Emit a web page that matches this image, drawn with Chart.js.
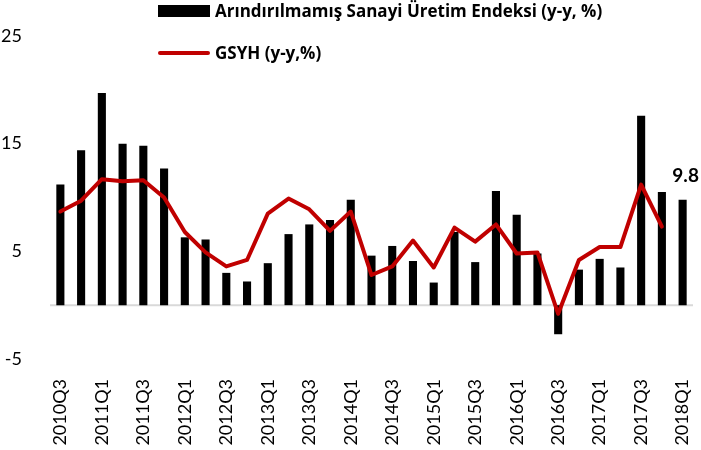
<!DOCTYPE html>
<html>
<head>
<meta charset="utf-8">
<script src="https://cdn.jsdelivr.net/npm/chart.js@4/dist/chart.umd.min.js"></script>
<style>
  body { margin: 0; background: #fff; }
  #wrap { width: 701px; height: 450px; }
</style>
</head>
<body>
<div id="wrap"><canvas id="chart" width="701" height="450"></canvas></div>
<script>
// Quarterly data, 2010Q3 - 2018Q1
const quarters = [
  "2010Q3", "2010Q4", "2011Q1", "2011Q2", "2011Q3", "2011Q4",
  "2012Q1", "2012Q2", "2012Q3", "2012Q4", "2013Q1", "2013Q2",
  "2013Q3", "2013Q4", "2014Q1", "2014Q2", "2014Q3", "2014Q4",
  "2015Q1", "2015Q2", "2015Q3", "2015Q4", "2016Q1", "2016Q2",
  "2016Q3", "2016Q4", "2017Q1", "2017Q2", "2017Q3", "2017Q4",
  "2018Q1"
];

// Arındırılmamış Sanayi Üretim Endeksi (y-y, %)
const sanayi = [
  11.2, 14.4, 19.7, 15.0, 14.8, 12.7,
  6.3, 6.1, 3.0, 2.2, 3.9, 6.6,
  7.5, 7.9, 9.8, 4.6, 5.5, 4.1,
  2.1, 6.8, 4.0, 10.6, 8.4, 4.8,
  -2.7, 3.3, 4.3, 3.5, 17.6, 10.5,
  9.8
];

// GSYH (y-y,%)
const gsyh = [
  8.7, 9.7, 11.7, 11.5, 11.6, 10.0,
  6.8, 4.9, 3.6, 4.2, 8.5, 9.9,
  8.9, 6.9, 8.7, 2.8, 3.6, 6.0,
  3.5, 7.2, 5.9, 7.5, 4.8, 4.9,
  -0.8, 4.2, 5.4, 5.4, 11.2, 7.3,
  null
];

const yTicks = [-5, 5, 15, 25];

const barLabel = "Arındırılmamış Sanayi Üretim Endeksi (y-y, %)";
const lineLabel = "GSYH (y-y,%)";
const RED = "#C00000";
const FONT = "Lato";
const LEGEND_FONT = "'Open Sans'";

// zero line across the plot
const zeroLine = {
  id: "zeroLine",
  beforeDatasetsDraw(chart) {
    const { ctx, chartArea, scales } = chart;
    const y = scales.y.getPixelForValue(0);
    ctx.save();
    ctx.strokeStyle = "#d9d9d9";
    ctx.lineWidth = 2;
    ctx.beginPath();
    ctx.moveTo(chartArea.left, y);
    ctx.lineTo(chartArea.right, y);
    ctx.stroke();
    ctx.restore();
  }
};

// legend drawn inside the top of the plot
const legendBox = {
  id: "legendBox",
  afterDraw(chart) {
    const ctx = chart.ctx;
    ctx.save();
    ctx.fillStyle = "#000";
    ctx.fillRect(158, 5, 52, 12);
    ctx.strokeStyle = RED;
    ctx.lineWidth = 4;
    ctx.lineCap = "round";
    ctx.beginPath();
    ctx.moveTo(160, 53);
    ctx.lineTo(208, 53);
    ctx.stroke();
    ctx.font = "bold 17px " + LEGEND_FONT;
    ctx.textBaseline = "alphabetic";
    ctx.textAlign = "left";
    ctx.fillText(barLabel, 215, 17);
    ctx.fillText(lineLabel, 215, 59);
    ctx.restore();
  }
};

// value label on the last bar
const lastLabel = {
  id: "lastLabel",
  afterDatasetsDraw(chart) {
    const meta = chart.getDatasetMeta(1);
    const i = sanayi.length - 1;
    const bar = meta.data[i];
    const ctx = chart.ctx;
    ctx.save();
    ctx.font = "bold 19px " + FONT;
    ctx.fillStyle = "#000";
    ctx.textAlign = "center";
    ctx.textBaseline = "alphabetic";
    ctx.fillText(sanayi[i].toFixed(1), bar.x + 3, bar.y - 18);
    ctx.restore();
  }
};

new Chart(document.getElementById("chart"), {
  type: "bar",
  data: {
    labels: quarters,
    datasets: [
      {
        type: "line",
        label: lineLabel,
        data: gsyh,
        borderColor: RED,
        backgroundColor: RED,
        borderWidth: 4,
        pointRadius: 0,
        tension: 0,
        borderJoinStyle: "round",
        borderCapStyle: "round",
        spanGaps: false,
        order: 0
      },
      {
        type: "bar",
        label: barLabel,
        data: sanayi,
        backgroundColor: "#000",
        borderWidth: 0,
        categoryPercentage: 1,
        barPercentage: 0.39,
        order: 1
      }
    ]
  },
  options: {
    responsive: false,
    animation: false,
    layout: { padding: { top: 36, right: 8, left: 0, bottom: 0 } },
    plugins: {
      legend: { display: false },
      tooltip: { enabled: false }
    },
    scales: {
      x: {
        offset: true,
        grid: { display: false },
        border: { display: false },
        ticks: {
          autoSkip: false,
          minRotation: 90,
          maxRotation: 90,
          padding: 12,
          color: "#000",
          font: { family: FONT, size: 18 },
          callback: (v, i) => (i % 2 === 0 ? quarters[i] : "")
        },
        afterFit: (scale) => {
          scale.height = 91;
          scale.paddingLeft = 0;
          scale.paddingRight = 0;
        }
      },
      y: {
        min: yTicks[0],
        max: yTicks[yTicks.length - 1],
        grid: { display: false },
        border: { display: false },
        ticks: {
          stepSize: yTicks[1] - yTicks[0],
          padding: 20,
          color: "#000",
          font: { family: FONT, size: 18 }
        },
        afterBuildTicks: (scale) => {
          scale.ticks = yTicks.map((v) => ({ value: v }));
        },
        afterFit: (scale) => { scale.width = 50; }
      }
    }
  },
  plugins: [zeroLine, legendBox, lastLabel]
});
</script>
</body>
</html>
